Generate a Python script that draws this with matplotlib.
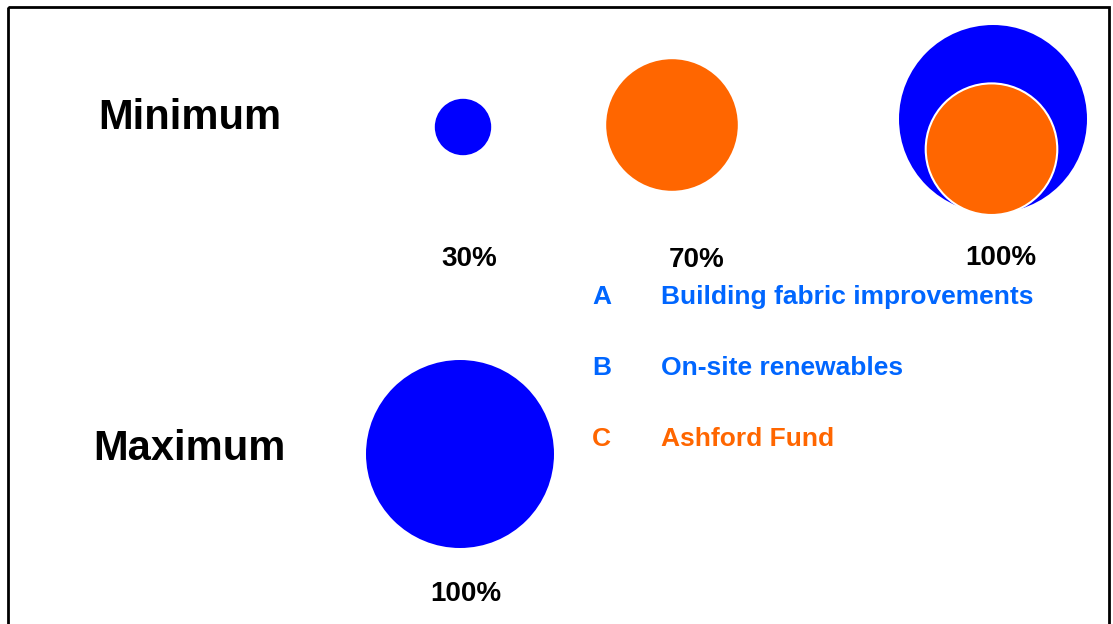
import matplotlib.pyplot as plt
from matplotlib.patches import Circle, Rectangle

# scenario rows and the shares drawn as circles
rows = ['Minimum', 'Maximum']
min_labels = ['30%', '70%', '100%']
min_blue = [30, 0, 100]      # share shown in blue (A/B)
min_orange = [0, 70, 70]     # share shown in orange (C)
max_labels = ['100%']
max_blue = [100]

legend_keys = ['A', 'B', 'C']
legend_text = ['Building fabric improvements', 'On-site renewables', 'Ashford Fund']
legend_cols = ['#0066FF', '#0066FF', '#FF6600']

BLUE = '#0000FF'
ORANGE = '#FF6600'
plt.rcParams['font.family'] = ['Liberation Sans', 'DejaVu Sans']

fig = plt.figure(figsize=(11.13, 6.24), dpi=100)
ax = fig.add_axes([0, 0, 1, 1])
ax.set_xlim(0, 1113)
ax.set_ylim(624, 0)
ax.set_aspect('equal')
ax.axis('off')

# frame (bottom edge runs off the picture)
ax.add_patch(Rectangle((8, 7), 1101, 640, fill=False, lw=2, ec='black'))

scale = 0.94  # pixels of radius per percent
min_x = [463, 672, 993]
min_y = [127, 125, 119]
lab_x = [469, 697, 1001]
lab_y = [259, 260, 258]

ax.text(190, 118, rows[0], fontsize=30, fontweight='bold', ha='center', va='center')
ax.text(189, 449, rows[1], fontsize=30, fontweight='bold', ha='center', va='center')

for i, lab in enumerate(min_labels):
    b, o = min_blue[i], min_orange[i]
    if b:
        ax.add_patch(Circle((min_x[i], min_y[i]), b * scale, color=BLUE, lw=0))
    if o:
        if b:
            # nested: orange sits at the bottom of the blue circle
            ro = o * scale
            ax.add_patch(Circle((min_x[i] - 1.5, min_y[i] + b * scale - ro + 2), ro,
                                fc=ORANGE, ec='white', lw=1.5))
        else:
            ax.add_patch(Circle((min_x[i], min_y[i]), o * scale, color=ORANGE, lw=0))
    ax.text(lab_x[i], lab_y[i], lab, fontsize=20, fontweight='bold', ha='center', va='center')

for i, lab in enumerate(max_labels):
    ax.add_patch(Circle((460, 454), max_blue[i] * scale, color=BLUE, lw=0))
    ax.text(466, 594, lab, fontsize=20, fontweight='bold', ha='center', va='center')

for i, (k, t, c) in enumerate(zip(legend_keys, legend_text, legend_cols)):
    y = 297 + i * 71
    ax.text(592, y, k, fontsize=19, fontweight='bold', color=c, ha='left', va='center')
    ax.text(661, y, t, fontsize=19, fontweight='bold', color=c, ha='left', va='center')

fig.savefig('out.png', dpi=100)
